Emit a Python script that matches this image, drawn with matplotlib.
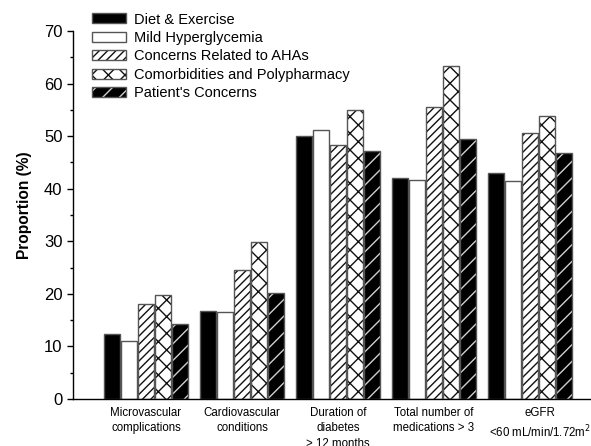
import matplotlib
matplotlib.use("Agg")
import matplotlib.pyplot as plt
from matplotlib.legend_handler import HandlerTuple
import numpy as np

plt.rcParams['font.family'] = ['Liberation Sans', 'DejaVu Sans']
plt.rcParams['hatch.linewidth'] = 1.0

categories = [
    "Microvascular\ncomplications",
    "Cardiovascular\nconditions",
    "Duration of\ndiabetes\n> 12 months",
    "Total number of\nmedications > 3",
    "eGFR\n<60 mL/min/1.72m$^2$",
]
series_names = [
    "Diet & Exercise",
    "Mild Hyperglycemia",
    "Concerns Related to AHAs",
    "Comorbidities and Polypharmacy",
    "Patient's Concerns",
]
diet_exercise = [12.3, 16.7, 50.1, 42.1, 43.0]
mild_hyperglycemia = [11.0, 16.6, 51.2, 41.6, 41.5]
concerns_ahas = [18.0, 24.6, 48.4, 55.6, 50.6]
comorbidities = [19.7, 29.9, 54.9, 63.4, 53.8]
patients_concerns = [14.2, 20.1, 47.2, 49.4, 46.7]

series = [diet_exercise, mild_hyperglycemia, concerns_ahas, comorbidities, patients_concerns]

W, H = 591, 446
fig = plt.figure(figsize=(W / 100, H / 100), dpi=100)
ax = fig.add_axes([73 / W, 47 / H, 1 - 73 / W, 368 / H])

x = np.arange(len(categories))
step = 0.177
width = 0.167
outline = '#555555'

# (face colour, hatch pattern, hatch colour) for each series
styles = [
    ('black', None, None),
    ('white', None, None),
    ('white', '////', '#111111'),
    ('white', 'xx', '#111111'),
    ('black', '//', '#d0d0d0'),
]

handles = []
for k, vals in enumerate(series):
    pos = x + (k - 2) * step
    face, hatch, hcol = styles[k]
    if hatch is None:
        bars = ax.bar(pos, vals, width, color=face, edgecolor=outline,
                      linewidth=1.0, zorder=2)
        handles.append(bars[0])
    else:
        fill = ax.bar(pos, vals, width, color=face, edgecolor=hcol,
                      hatch=hatch, linewidth=0, zorder=2)
        edge = ax.bar(pos, vals, width, color='none', edgecolor=outline,
                      linewidth=1.0, zorder=3)
        handles.append((fill[0], edge[0]))

ax.set_ylim(0, 70)
ax.set_xlim((73 - 146) / 96, (W - 146) / 96)
ax.set_yticks(np.arange(0, 71, 10))
ax.set_yticks(np.arange(5, 70, 10), minor=True)
ax.tick_params(axis='y', which='major', length=4, width=1, direction='out',
               labelsize=12, pad=3.5)
ax.tick_params(axis='y', which='minor', length=2.5, width=1, direction='out')

label_pos = [0, 1, 2, 3, 4.104]
ax.set_xticks(label_pos)
ax.set_xticklabels(categories, fontsize=8.3, linespacing=1.35)
ax.tick_params(axis='x', length=0, pad=6)

for s in ['top', 'right']:
    ax.spines[s].set_visible(False)
for s in ['left', 'bottom']:
    ax.spines[s].set_linewidth(1.0)

ax.set_ylabel("Proportion (%)", fontsize=11.2, fontweight='bold')
ax.yaxis.set_label_coords(-41 / (W - 73), 0.527)

fig.legend(handles, series_names, loc='upper left',
           bbox_to_anchor=(92 / W, 1 - 12.5 / H), bbox_transform=fig.transFigure,
           frameon=False, fontsize=10.5, handlelength=2.33, handleheight=0.68,
           handletextpad=0.55, labelspacing=0.3, borderpad=0, borderaxespad=0,
           handler_map={tuple: HandlerTuple(ndivide=1, pad=0)})

fig.savefig("out.png", dpi=100)
